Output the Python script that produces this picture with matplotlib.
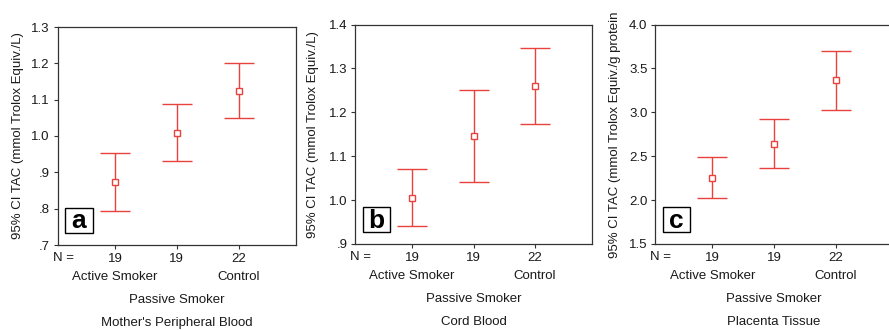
import matplotlib
matplotlib.use("Agg")
import matplotlib.pyplot as plt
from matplotlib.patches import Rectangle

plt.rcParams['font.family'] = ['Liberation Sans', 'DejaVu Sans']

# ---- data ----
groups = ["Active Smoker", "Passive Smoker", "Control"]
n_labels = ["19", "19", "22"]

a_mean = [0.874, 1.009, 1.125]
a_low = [0.794, 0.931, 1.049]
a_high = [0.953, 1.088, 1.200]
a_ticks = [0.7, 0.8, 0.9, 1.0, 1.1, 1.2, 1.3]
a_ticklabels = [".7", ".8", ".9", "1.0", "1.1", "1.2", "1.3"]

b_mean = [1.005, 1.146, 1.259]
b_low = [0.941, 1.041, 1.173]
b_high = [1.071, 1.250, 1.346]
b_ticks = [0.9, 1.0, 1.1, 1.2, 1.3, 1.4]
b_ticklabels = [".9", "1.0", "1.1", "1.2", "1.3", "1.4"]

c_mean = [2.254, 2.641, 3.366]
c_low = [2.027, 2.361, 3.024]
c_high = [2.486, 2.922, 3.700]
c_ticks = [1.5, 2.0, 2.5, 3.0, 3.5, 4.0]
c_ticklabels = ["1.5", "2.0", "2.5", "3.0", "3.5", "4.0"]

panels = [
    dict(mean=a_mean, low=a_low, high=a_high, ticks=a_ticks, tl=a_ticklabels,
         letter="a", title="Mother's Peripheral Blood",
         ylabel="95% CI TAC (mmol Trolox Equiv./L)",
         rect=(57.5, 296, 27, 245), ylab_x=18),
    dict(mean=b_mean, low=b_low, high=b_high, ticks=b_ticks, tl=b_ticklabels,
         letter="b", title="Cord Blood",
         ylabel="95% CI TAC (mmol Trolox Equiv./L)",
         rect=(355, 592, 24.5, 244), ylab_x=313),
    dict(mean=c_mean, low=c_low, high=c_high, ticks=c_ticks, tl=c_ticklabels,
         letter="c", title="Placenta Tissue",
         ylabel="95% CI TAC (mmol Trolox Equiv./g protein",
         rect=(655, 893, 24.5, 244), ylab_x=615),
]

W, H = 889, 330
fig = plt.figure(figsize=(W / 100, H / 100), dpi=100)
red = "#e8423c"
txt = "#1a1a1a"
fs = 9.5
x = [1, 2, 3]

for p in panels:
    l, r, t, b = p["rect"]
    ax = fig.add_axes([l / W, (H - b) / H, (r - l) / W, (b - t) / H])
    hpx = b - t
    lo = [m - v for m, v in zip(p["mean"], p["low"])]
    hi = [v - m for m, v in zip(p["mean"], p["high"])]
    ax.errorbar(x, p["mean"], yerr=[lo, hi], fmt="s", color=red, ecolor=red,
                elinewidth=1.0, capsize=10.8, capthick=1.0, markersize=4,
                mfc="white", mec=red, mew=1.0)
    ax.set_xlim(0.07, 3.93)
    ax.set_ylim(p["ticks"][0], p["ticks"][-1])
    ax.set_yticks(p["ticks"])
    ax.set_yticklabels(p["tl"], fontsize=fs, color=txt)
    ax.set_xticks(x)
    ax.set_xticklabels(n_labels, fontsize=fs, color=txt)
    ax.tick_params(axis="both", direction="out", length=3, width=0.8,
                   color="#333333", pad=2.5)
    for s in ax.spines.values():
        s.set_color("#333333")
        s.set_linewidth(0.9)
    tr = ax.get_xaxis_transform()
    ax.text(0.16, -13 / hpx, "N =", transform=tr, ha="center", va="center",
            fontsize=fs, color=txt)
    ax.text(1, -32 / hpx, groups[0], transform=tr, ha="center", va="center",
            fontsize=fs, color=txt)
    ax.text(3, -32 / hpx, groups[2], transform=tr, ha="center", va="center",
            fontsize=fs, color=txt)
    ax.text(2, -55 / hpx, groups[1], transform=tr, ha="center", va="center",
            fontsize=fs, color=txt)
    ax.text(2, -78 / hpx, p["title"], transform=tr, ha="center", va="center",
            fontsize=fs, color=txt)
    # y label
    fig.text(p["ylab_x"] / W, (H - (t + b) / 2) / H, p["ylabel"], rotation=90,
             ha="center", va="center", fontsize=fs, color=txt)
    # letter box
    wpx = r - l
    ax.add_patch(Rectangle((7.5 / wpx, 12 / hpx), 27.5 / wpx, 25 / hpx,
                           transform=ax.transAxes, facecolor="white",
                           edgecolor="black", linewidth=1.0, zorder=5))
    ax.text((7.5 + 13.75) / wpx, (12 + 11.5) / hpx, p["letter"],
            transform=ax.transAxes, ha="center", va="center",
            fontsize=19, fontweight="bold", color="black", zorder=6)

fig.savefig("out.png", dpi=100)
